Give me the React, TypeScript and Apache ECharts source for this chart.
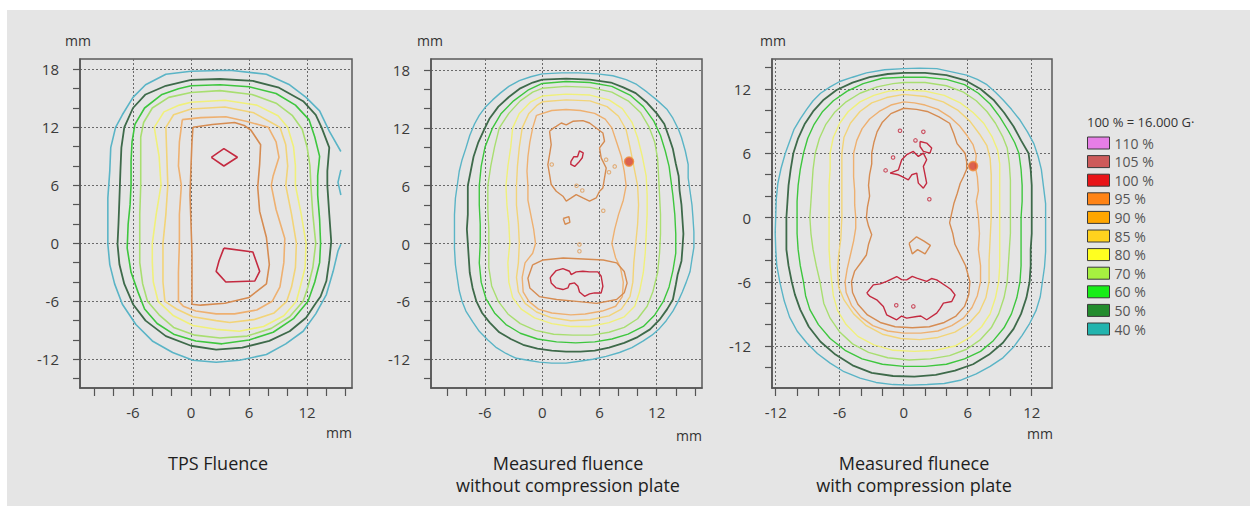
import React, { useEffect, useRef } from 'react';
import * as echarts from 'echarts';

// ---------- axis ticks & labels (mm) ----------
const xTicksA = [-10, -8, -6, -4, -2, 0, 2, 4, 6, 8, 10, 12, 14, 16];
const xLabelsA = [-6, 0, 6, 12];
const yTicksA = [-14, -12, -10, -8, -6, -4, -2, 0, 2, 4, 6, 8, 10, 12, 14, 16, 18];
const yLabelsA = [-12, -6, 0, 6, 12, 18];
const xTicksC = [-12, -10, -8, -6, -4, -2, 0, 2, 4, 6, 8, 10, 12];
const xLabelsC = [-12, -6, 0, 6, 12];
const yTicksC = [-14, -12, -10, -8, -6, -4, -2, 0, 2, 4, 6, 8, 10, 12, 14];
const yLabelsC = [-12, -6, 0, 6, 12];

const panelRangesX = [[-11.48, 16.65], [-11.66, 16.75], [-12.35, 13.9]];
const panelRangesY = [[-14.97, 19.07], [-14.98, 19.14], [-15.92, 14.8]];

// ---------- isodose levels ----------
const levelNames = ['110 %', '105 %', '100 %', '95 %', '90 %', '85 %', '80 %', '70 %', '60 %', '50 %', '40 %'];
const legendColors = ['#e67ee6', '#cd5a5a', '#e81418', '#ff8416', '#ffa600', '#ffd21e', '#ffff20', '#a6f040', '#18ee18', '#238c2e', '#22b4ae'];
const lineColors: Record<string, string> = {
  '110 %': '#e67ee6', '105 %': '#c05050', '100 %': '#c42a40', '95 %': '#d68c52', '90 %': '#eeb070',
  '85 %': '#f2d478', '80 %': '#f0f07a', '70 %': '#a8de70', '60 %': '#3ec63e', '50 %': '#3e6a4a', '40 %': '#5ab4c6',
};
const captions = ['TPS Fluence', 'Measured fluence\nwithout compression plate', 'Measured flunece\nwith compression plate'];

// ---------- Panel 1 : TPS fluence ----------
const p1_40a = [[15.5,9.5],[14.3,11.6],[13.3,13.7],[11.9,15.1],[10.2,16.4],[7.8,17.5],[4.0,17.9],[0,17.8],[-2.6,17.5],[-4.7,16.4],[-6.0,15.1],[-7.1,13.3],[-7.8,12.0],[-8.3,9.9],[-8.4,7.5],[-8.6,4.7],[-8.6,2.0],[-8.6,-0.1],[-8.4,-2.2],[-7.9,-4.2],[-7.1,-6.3],[-5.7,-8.4],[-4.0,-10.1],[-1.9,-11.3],[0.2,-12.1],[2.6,-12.3],[5.0,-12.1],[7.8,-11.5],[9.8,-10.4],[11.6,-9.1],[12.9,-7.3],[14.0,-5.3],[14.7,-2.9],[15.2,-0.8],[15.5,-0.1]];
const p1_40b = [[15.5,7.6],[15.2,6.3],[15.5,5.0]];
const p1_50 = [[0,16.9],[3,17.0],[6.4,16.8],[9.1,16.1],[11.6,14.7],[12.9,13.3],[13.5,12],[14.3,9.9],[14.1,7.5],[14.1,6],[14.3,3],[14.5,0.2],[14.3,-1.8],[14.0,-3.9],[13.4,-5.5],[12.9,-6.2],[11.9,-7.7],[10.2,-9.1],[8.1,-10.1],[5.3,-10.8],[2.6,-11.0],[0,-10.6],[-2.6,-9.6],[-4.7,-8.0],[-6.0,-6.3],[-6.9,-4.2],[-7.4,-2.2],[-7.6,-0.1],[-7.5,2],[-7.4,4.7],[-7.3,7.5],[-7.2,9.9],[-6.9,12.0],[-6.0,14.0],[-4.7,15.4],[-2.6,16.3],[0,16.9]];
const p1_60 = [[0,16.3],[3,16.4],[6,16.2],[8.8,15.5],[10.8,14.3],[12.2,12.8],[12.8,11],[13.3,9],[13.1,7],[13.1,5],[13.3,2.5],[13.4,0],[13.3,-2],[12.8,-4],[12.1,-6],[10.6,-7.8],[8.5,-9.2],[6,-10.0],[3.2,-10.4],[0.5,-10.1],[-1.8,-9.4],[-3.5,-8.3],[-4.8,-6.8],[-5.5,-5],[-6.2,-3],[-6.6,-0.5],[-6.5,2],[-6.3,4],[-6.2,6],[-6.2,8.5],[-6.1,10.5],[-5.8,12.3],[-4.8,14],[-3.0,15.4],[-1.3,16.0],[0,16.3]];
const p1_70 = [[0,15.6],[3,15.8],[6.3,15.4],[8.8,14.5],[10.5,13.2],[11.5,11.8],[12.0,10],[12.3,8],[12.4,6],[12.6,3],[12.9,0],[12.6,-2.5],[12.1,-4.5],[11.6,-6],[10.2,-7.6],[8.3,-8.8],[5.8,-9.6],[3,-9.8],[0.4,-9.5],[-1.8,-8.7],[-3.3,-7.4],[-4.5,-6],[-5.0,-4.2],[-5.3,-2],[-5.3,0],[-5.3,3],[-5.2,6],[-5.2,9],[-5.2,11],[-4.9,12.5],[-4.0,14],[-2.3,15.1],[0,15.6]];
const p1_80 = [[0,14.6],[3.5,14.8],[6.8,14.3],[9.0,13.2],[10.0,12],[10.6,10],[10.8,8],[10.8,6],[11.4,3],[11.9,0],[11.8,-2.5],[11.3,-4.5],[10.9,-6],[9.6,-7.5],[7.5,-8.6],[5,-9.1],[2.6,-8.9],[0.2,-8.5],[-1.8,-7.5],[-3.4,-6],[-3.9,-4],[-4.0,-2],[-4.0,0],[-3.6,3],[-3.1,6],[-3.3,9],[-3.8,12],[-2.8,13.6],[-1.2,14.3],[0,14.6]];
const p1_85 = [[0,13.9],[3.5,14.1],[6.5,13.5],[8.3,12.5],[9.2,12],[9.8,10.2],[10.0,8],[9.8,6],[10.4,3],[10.9,0],[10.8,-2.5],[10.4,-4.5],[9.9,-6],[8.6,-7.2],[6.5,-7.9],[4,-8.2],[2.6,-8.0],[0.2,-7.6],[-1.5,-6.8],[-2.7,-6],[-2.9,-4],[-2.9,-2],[-2.9,0],[-2.6,3],[-2.4,6],[-2.5,9],[-2.6,12],[-1.8,13.3],[0,13.9]];
const p1_90 = [[-0.9,12.8],[1,13.0],[3.6,13.1],[5.8,12.6],[8.0,12],[8.8,10.5],[9.1,8.9],[8.5,7],[8.3,6],[8.8,3.5],[9.7,0.5],[9.6,-2],[9.2,-4.5],[8.4,-6],[6.8,-6.9],[4.5,-7.3],[2.6,-7.3],[0.5,-7.0],[-0.8,-6.5],[-1.3,-6],[-1.3,-3],[-1.2,0],[-1.2,3],[-1.0,6],[-1.3,8],[-1.2,10.5],[-0.9,12.8]];
const p1_95 = [[0.2,12.0],[2.2,12.3],[4.5,12.5],[5.5,12.2],[6.2,11.7],[7.2,10.2],[7.1,8.2],[6.9,5.8],[7.1,3.3],[7.8,0.6],[8.1,-2.2],[7.8,-4.2],[6.0,-5.6],[3.5,-6.2],[1,-6.4],[0.1,-6.3],[0.1,-4],[0.1,-1],[0,2],[-0.1,5],[0,8],[0.1,10.5],[0.2,12.0]];
const p1_100a = [[2.1,8.9],[3.4,9.8],[4.8,8.9],[3.4,8.0],[2.1,8.9]];
const p1_100b = [[3.4,-0.5],[6.4,-0.9],[7.1,-2.9],[6.6,-3.9],[3.6,-4.0],[2.6,-2.9],[2.9,-1.8],[3.4,-0.5]];

// ---------- Panel 2 : measured, without compression plate ----------
const p2_40 = [[0,17.6],[2,17.7],[3.9,17.7],[5.8,17.6],[7.4,17.4],[8.8,17.0],[9.9,16.5],[11.0,15.7],[12,14.9],[13.1,13.9],[13.7,13],[14.3,11.8],[14.6,11],[15.0,9.6],[15.3,8.2],[15.3,6.8],[15.5,5.4],[15.7,4.0],[15.8,2.7],[15.9,1.2],[15.9,-0.4],[15.7,-1.6],[15.5,-2.9],[15.1,-4.0],[14.7,-5.0],[14.2,-6.1],[13.7,-7],[13.0,-8],[12.3,-8.8],[11.5,-9.5],[10.6,-10.1],[9.4,-10.8],[8.1,-11.3],[6.7,-11.7],[5.3,-12],[3.9,-12.2],[2.5,-12.4],[1.0,-12.4],[-0.3,-12.3],[-1.5,-12.1],[-2.7,-11.9],[-3.8,-11.4],[-4.8,-10.8],[-5.7,-10.0],[-6.6,-9.1],[-7.3,-8.1],[-8,-7],[-8.4,-6.0],[-8.7,-4.9],[-8.9,-3.6],[-9.1,-2.2],[-9.2,-0.5],[-9.2,1.3],[-9.2,3.0],[-9.1,4.7],[-8.9,6.1],[-8.7,7.5],[-8.4,8.7],[-8,9.9],[-7.6,11.2],[-7.1,12.4],[-6.6,13.3],[-6.0,14.1],[-5.2,14.9],[-4.4,15.6],[-3.5,16.3],[-2.4,16.9],[-1.2,17.3],[0,17.6]];
const p2_50 = [[0,17.0],[2.5,17.1],[5,17.0],[7.2,16.7],[8.5,16.2],[9.8,15.6],[11.0,14.6],[12.0,13.5],[12.8,12.4],[13.3,11],[13.7,9.8],[14.0,8.3],[14.3,7],[14.4,5.5],[14.6,4],[14.7,2.5],[14.8,1],[14.7,-0.5],[14.6,-1.8],[14.2,-3.2],[14.0,-4.3],[13.7,-5.8],[13.1,-6.8],[12.3,-7.9],[11.3,-8.9],[10.0,-9.7],[8.6,-10.3],[7.0,-10.8],[5.5,-11.1],[4,-11.2],[2.5,-11.2],[1,-11.1],[-0.5,-10.9],[-2,-10.5],[-3.3,-9.9],[-4.5,-9.2],[-5.5,-8.2],[-6.3,-7.2],[-6.9,-6.0],[-7.3,-4.6],[-7.6,-3.0],[-7.7,-1.5],[-7.8,0],[-7.9,1.5],[-7.8,3],[-7.8,4.5],[-7.8,6],[-7.5,7.5],[-7.2,9],[-6.7,10.5],[-6.1,11.8],[-5.5,13],[-4.6,14.2],[-3.5,15.2],[-2.3,16.1],[-1,16.7],[0,17.0]];
const p2_60 = [[0,16.6],[2.5,16.8],[5,16.7],[7.3,16.3],[9.2,15.4],[10.6,14.2],[11.7,12.7],[12.4,11.2],[12.9,9.6],[13.3,8],[13.5,6.5],[13.7,5],[13.9,3],[14.0,1],[14.0,-1],[13.7,-2.8],[13.3,-4.5],[12.7,-6],[11.8,-7.4],[10.6,-8.6],[9.0,-9.4],[7.3,-9.9],[5.5,-10.2],[3.5,-10.3],[1.5,-10.2],[-0.5,-9.9],[-2.3,-9.3],[-3.8,-8.4],[-5.0,-7.2],[-5.9,-5.7],[-6.4,-4],[-6.6,-2],[-6.5,0],[-6.5,2],[-6.6,4],[-6.6,6],[-6.4,8],[-6.0,10],[-5.2,12],[-4.3,13.5],[-3.0,14.8],[-1.5,15.9],[0,16.6]];
const p2_70 = [[0,16.1],[2.5,16.3],[5,16.2],[7.3,15.7],[9,14.8],[10.3,13.6],[11.2,12.1],[11.8,10.5],[12.1,8.8],[12.2,7],[12.3,5],[12.4,3],[12.4,1],[12.3,-1],[12.1,-3],[11.6,-5],[11.0,-6.5],[10.0,-7.8],[8.6,-8.7],[7,-9.2],[5.2,-9.5],[3.2,-9.5],[1.2,-9.4],[-0.7,-9.0],[-2.3,-8.3],[-3.6,-7.3],[-4.6,-6.0],[-5.3,-4.4],[-5.6,-2.5],[-5.6,-0.5],[-5.6,1.5],[-5.7,3.5],[-5.7,6],[-5.4,8],[-5.0,10],[-4.5,12],[-3.5,13.5],[-2.3,14.8],[-1,15.7],[0,16.1]];
const p2_80 = [[0,15.3],[2.5,15.5],[5,15.4],[7,14.9],[8.4,14.0],[9.4,12.6],[10.0,11],[10.5,9],[10.9,7],[11.0,5],[11.0,3],[10.9,1],[10.8,-1],[10.6,-3],[10.2,-5],[9.7,-6.5],[8.6,-7.6],[7,-8.2],[5,-8.6],[3,-8.6],[1,-8.3],[-0.8,-7.7],[-2.2,-6.8],[-3.1,-5.6],[-3.5,-4],[-3.6,-2],[-3.4,0],[-3.5,2],[-3.7,4],[-3.8,6],[-3.6,8],[-3.3,10],[-3.1,12],[-2.4,13.5],[-1.2,14.7],[0,15.3]];
const p2_85 = [[0,14.7],[2.5,14.9],[5,14.8],[6.8,14.2],[8.0,13.2],[8.8,11.8],[9.2,10],[9.6,8],[10.0,6],[10.1,4],[10.0,2],[9.8,0],[9.6,-2],[9.5,-4],[9.2,-5.5],[8.3,-6.8],[7,-7.5],[5,-7.9],[3,-8.0],[1,-7.7],[-0.6,-7.1],[-1.8,-6.2],[-2.5,-5],[-2.7,-3.5],[-2.5,-2],[-2.4,0],[-2.5,2],[-2.7,4],[-2.7,6],[-2.6,8],[-2.4,10],[-2.1,12],[-1.4,13.5],[-0.6,14.3],[0,14.7]];
const p2_90 = [[-0.6,13.3],[1,13.8],[2.5,13.9],[4,13.8],[5.5,13.5],[6.6,12.9],[7.3,12],[7.8,10.5],[8.3,9],[8.6,7.5],[8.8,6],[8.5,4.5],[8.0,3],[7.6,1.5],[7.3,0],[7.7,-1.5],[8.2,-2.5],[8.5,-4],[8.4,-5.5],[7.7,-6.5],[6.3,-7.0],[4.5,-7.3],[3,-7.4],[1,-7.2],[-0.4,-6.8],[-1.4,-6],[-2.0,-5],[-2.1,-3.5],[-1.8,-2],[-1.0,-1],[-0.7,0],[-0.9,1.5],[-1.2,3],[-1.5,4.5],[-1.5,6],[-1.6,7.5],[-1.5,9],[-1.3,10.5],[-1.0,12],[-0.6,13.3]];
const p2_95u = [[0.77,11.65],[1.2,12.0],[1.47,12.16],[2.0,12.5],[2.52,12.3],[3.21,12.68],[4.26,12.75],[4.96,12.5],[5.66,11.99],[6.36,11.47],[6.53,10.61],[6.01,9.92],[6.18,8.88],[6.71,7.84],[6.53,6.81],[6.36,5.77],[6.01,5.42],[5.66,4.73],[4.96,4.39],[4.26,4.73],[3.56,5.08],[3.04,4.73],[2.52,4.4],[2.17,4.91],[1.47,5.42],[0.94,6.12],[0.77,7.15],[0.59,8.19],[0.77,9.23],[0.94,10.26],[0.77,11.65]];
const p2_95l = [[-1.0,-2.2],[0.1,-1.7],[2.2,-1.5],[4.3,-1.6],[6.4,-1.7],[7.8,-2.0],[8.6,-2.9],[8.9,-4.1],[8.6,-5.1],[7.8,-5.8],[5.7,-6.2],[3.6,-6.0],[1.5,-5.8],[-0.3,-5.5],[-1.3,-4.6],[-1.5,-3.6],[-1.0,-2.2]];
const p2_95s = [[2.2,2.6],[2.8,2.8],[2.9,2.2],[2.4,2.0],[2.2,2.6]];
const p2_100l = [[0.94,-3.39],[1.47,-2.8],[2.17,-2.6],[2.86,-2.87],[3.04,-3.22],[3.56,-2.94],[4.26,-2.87],[4.96,-2.94],[5.84,-2.94],[6.18,-3.39],[6.36,-4.43],[6.18,-5.12],[5.49,-5.12],[4.96,-5.22],[4.44,-5.47],[3.91,-5.02],[3.74,-4.43],[3.39,-4.08],[2.86,-4.19],[2.69,-4.6],[2.17,-4.77],[1.47,-4.6],[0.94,-4.08],[0.84,-3.56],[0.94,-3.39]];
const p2_100u = [[3.0,8.5],[3.3,9.0],[3.7,9.0],[3.9,9.6],[4.3,9.4],[4.2,8.9],[3.8,8.4],[3.4,8.0],[3.0,8.2],[3.0,8.5]];
const p2_hot = [[9.1, 8.5]];
const p2_specks = [[1.0, 8.2], [6.7, 8.7], [7.6, 8.0], [7.0, 7.4], [4.2, 5.5], [6.4, 3.4], [3.9, -0.1], [3.9, -0.8], [3.6, 6.0]];

// ---------- Panel 3 : measured, with compression plate ----------
const p3_40 = [[0,13.9],[1.5,13.95],[3.1,13.9],[4.5,13.6],[5.9,13.3],[6.9,12.9],[7.8,12.4],[8.6,11.7],[9.3,11],[10.1,10.1],[10.9,9.1],[11.6,8],[12.2,6.9],[12.6,5.7],[12.9,4.5],[13.1,2.9],[13.3,1.3],[13.3,-0.3],[13.3,-1.8],[13.3,-3.2],[13.2,-4.6],[13.0,-6.0],[12.8,-7.4],[12.4,-8.7],[11.8,-9.9],[11.1,-11],[10.3,-12.1],[9.3,-13.1],[8.1,-13.9],[6.8,-14.6],[5.3,-15.2],[3.8,-15.5],[2.2,-15.6],[0.6,-15.65],[-1,-15.6],[-2.6,-15.4],[-4.1,-15],[-5.6,-14.4],[-6.9,-13.6],[-8.1,-12.7],[-9.1,-11.7],[-10.0,-10.6],[-10.7,-9.3],[-11.2,-7.8],[-11.6,-6.1],[-11.9,-4.5],[-12,-3],[-12.05,-1.4],[-12,0.1],[-11.95,1.7],[-11.8,3.2],[-11.5,4.6],[-11.1,6],[-10.7,7.1],[-10.3,8.2],[-9.7,9.2],[-9.1,10.1],[-8.5,10.9],[-7.8,11.6],[-6.9,12.2],[-6,12.7],[-4.8,13.1],[-3.5,13.5],[-1.8,13.8],[0,13.9]];
const p3_50 = [[0,13.5],[2,13.5],[4,13.3],[5.8,12.8],[7.2,12.0],[8.4,11],[9.4,9.8],[10.3,8.5],[11.0,7.2],[11.7,6],[11.9,4.5],[12.0,3],[12.0,1.5],[12.0,0],[12.0,-1.5],[11.9,-3],[11.9,-4.5],[11.8,-6],[11.5,-7.5],[11.0,-9],[10.3,-10.4],[9.3,-11.7],[8.0,-12.8],[6.5,-13.7],[4.8,-14.3],[3,-14.7],[1,-14.85],[-1,-14.8],[-3,-14.5],[-4.8,-13.8],[-6.4,-12.8],[-7.8,-11.6],[-8.9,-10.2],[-9.7,-8.6],[-10.2,-7.2],[-10.5,-6],[-10.8,-4.5],[-11.0,-3],[-11.0,-1.5],[-11.0,0],[-10.9,1.5],[-10.8,3],[-10.6,4.5],[-10.35,6],[-9.9,7.4],[-9.3,8.7],[-8.5,9.9],[-7.5,11],[-6.3,11.9],[-4.8,12.6],[-3.2,13.1],[-1.5,13.4],[0,13.5]];
const p3_60 = [[0,13.1],[2,13.1],[4,12.9],[5.7,12.4],[7.0,11.6],[8.1,10.6],[9.0,9.4],[9.8,8.1],[10.4,7],[10.8,6],[11.0,4.5],[11.1,3],[11.1,1.5],[11.0,0],[11.0,-1.5],[11.0,-3],[11.0,-4.5],[10.9,-6],[10.6,-7.5],[10.1,-9],[9.4,-10.3],[8.4,-11.5],[7.2,-12.5],[5.7,-13.2],[4,-13.7],[2,-13.9],[0,-13.9],[-2,-13.7],[-3.9,-13.2],[-5.5,-12.4],[-6.9,-11.3],[-8.0,-10],[-8.8,-8.6],[-9.2,-7.3],[-9.4,-6],[-9.7,-4.5],[-9.9,-3],[-10.0,-1.5],[-10.0,0],[-10.0,1.5],[-9.9,3],[-9.7,4.5],[-9.4,6],[-9.0,7.4],[-8.4,8.7],[-7.6,9.9],[-6.6,10.9],[-5.3,11.8],[-3.8,12.5],[-2,13.0],[0,13.1]];
const p3_70 = [[0,12.6],[2,12.6],[4,12.3],[5.6,11.7],[6.8,10.9],[7.8,9.9],[8.6,8.8],[9.3,7.5],[9.7,6.5],[9.9,5],[10.0,3.5],[10.0,2],[10.0,0],[10.0,-1.5],[9.9,-3],[9.8,-4.5],[9.7,-6],[9.4,-7.5],[8.9,-9],[8.2,-10.3],[7.2,-11.4],[5.9,-12.3],[4.3,-12.9],[2.5,-13.2],[0.5,-13.3],[-1.5,-13.1],[-3.3,-12.6],[-4.8,-11.8],[-6.0,-10.7],[-6.9,-9.4],[-7.5,-8],[-7.85,-6],[-8.2,-4.5],[-8.5,-3],[-8.7,-1.5],[-8.8,0],[-8.7,1.5],[-8.6,3],[-8.5,4.5],[-8.3,6],[-7.9,7.4],[-7.3,8.7],[-6.5,9.8],[-5.4,10.8],[-4.1,11.6],[-2.5,12.2],[-1,12.5],[0,12.6]];
const p3_80 = [[0,11.9],[2,11.8],[3.8,11.4],[5.3,10.7],[6.5,9.8],[7.5,8.8],[8.3,7.5],[8.8,6.3],[9.0,5],[9.0,3],[9.0,1],[9.0,-1],[9.0,-3],[9.0,-4.5],[8.9,-6],[8.6,-7.5],[8.1,-9],[7.3,-10.2],[6.2,-11.2],[4.8,-12],[3,-12.4],[1,-12.5],[-1,-12.4],[-2.8,-11.9],[-4.3,-11.1],[-5.4,-10],[-6.2,-8.7],[-6.6,-7.3],[-6.75,-6],[-6.9,-4.5],[-7.0,-3],[-7.0,-1.5],[-7.0,0],[-7.0,1.5],[-7.0,3],[-6.9,4.5],[-6.9,6],[-6.6,7.5],[-6.0,8.8],[-5.2,9.9],[-4.1,10.8],[-2.8,11.4],[-1.4,11.8],[0,11.9]];
const p3_85 = [[0,11.5],[2,11.3],[3.7,10.8],[5.1,10.0],[6.2,9.0],[7.1,7.8],[7.8,6.7],[8.1,5.5],[8.2,4],[8.2,2],[8.2,0],[8.1,-2],[8.0,-4],[8.0,-6],[7.7,-7.5],[7.1,-8.8],[6.1,-9.9],[4.8,-10.7],[3.2,-11.2],[1.5,-11.4],[-0.3,-11.3],[-2,-10.9],[-3.5,-10.1],[-4.7,-9.0],[-5.6,-7.7],[-6.1,-6.5],[-6.2,-5],[-6.1,-3.5],[-5.9,-2],[-5.8,0],[-5.8,2],[-5.8,4],[-5.8,6],[-5.6,7.5],[-5.0,8.8],[-4.1,9.9],[-3.0,10.7],[-1.6,11.2],[0,11.5]];
const p3_90 = [[0,10.8],[1,10.7],[2,10.5],[3.2,10.1],[4.3,9.4],[5.2,8.6],[5.9,7.7],[6.5,6.8],[6.8,5.8],[6.7,4.8],[6.9,3.8],[7.0,2.5],[6.8,1.5],[7.0,0],[7.1,-1.5],[7.0,-3],[7.2,-4.5],[7.2,-6],[6.9,-7.3],[6.4,-8.4],[5.6,-9.4],[4.5,-10.1],[3.2,-10.6],[1.6,-10.8],[0,-10.8],[-1.5,-10.6],[-2.9,-10.1],[-4.0,-9.3],[-4.9,-8.2],[-5.4,-7.0],[-5.5,-6],[-5.3,-4.8],[-5.0,-3.5],[-4.7,-2.2],[-4.5,-1],[-4.5,0],[-4.6,1.2],[-4.6,2.5],[-4.7,3.8],[-4.7,5],[-4.7,6],[-4.4,7.2],[-3.9,8.3],[-3.2,9.2],[-2.3,9.9],[-1.2,10.5],[0,10.8]];
const p3_95 = [[0,10.2],[1.2,10.1],[2.2,9.9],[3.3,9.4],[4.3,8.8],[4.7,7.8],[5.0,6.9],[5.75,6.0],[5.9,5.2],[5.9,4.5],[5.6,3.8],[5.3,3.2],[5.0,2.2],[4.7,1.3],[4.5,0.4],[4.3,-0.5],[4.6,-1.5],[4.8,-2.5],[5.3,-3.5],[5.8,-4.5],[6.2,-6],[6.1,-7.2],[5.7,-8.3],[4.9,-9.2],[3.8,-9.8],[2.4,-10.2],[0.8,-10.3],[-0.8,-10.2],[-2.2,-9.8],[-3.4,-9.1],[-4.3,-8.1],[-4.8,-7.0],[-4.9,-6],[-4.6,-5],[-4.0,-4.2],[-3.5,-3.5],[-3.3,-2.5],[-3.0,-1.6],[-3.3,-0.8],[-3.5,0],[-3.4,1],[-3.2,2],[-3.3,3],[-3.2,4],[-3.0,5],[-3.0,6],[-2.8,7],[-2.5,8],[-2.0,8.9],[-1.2,9.7],[0,10.2]];
const p3_95s = [[0.5,-2.4],[1.2,-1.8],[1.9,-2.2],[2.5,-2.6],[2.0,-3.4],[1.3,-3.0],[0.8,-3.4],[0.5,-2.4]];
const p3_100l = [[-3.47,-7.06],[-2.85,-6.29],[-2.2,-6.2],[-1.6,-5.97],[-0.66,-5.51],[-0.2,-5.8],[0.28,-5.82],[0.8,-5.5],[1.22,-5.66],[2.15,-5.97],[2.6,-5.7],[3.09,-5.82],[4.03,-6.44],[4.4,-6.7],[4.81,-7.22],[4.5,-7.84],[3.72,-8.0],[3.4,-8.5],[3.09,-8.93],[2.15,-9.55],[1.6,-9.2],[1.22,-9.24],[0.28,-9.4],[-0.2,-9.2],[-0.66,-9.55],[-1.6,-9.09],[-1.91,-8.31],[-2.53,-7.69],[-3.16,-7.37],[-3.47,-7.06]];
const p3_100u = [[-1.28,4.14],[-0.5,4.45],[-0.19,5.39],[0.28,5.86],[0.9,6.17],[1.37,5.7],[1.84,6.01],[2.15,5.39],[1.84,4.77],[2.0,3.99],[2.15,3.21],[1.84,2.74],[1.37,3.21],[1.22,4.14],[0.75,3.99],[0.43,3.52],[-0.19,3.83],[-0.5,3.99],[-1.28,4.14]];
const p3_100u2 = [[1.53,7.1],[2.15,6.95],[2.62,6.48],[2.46,6.01],[1.84,6.17],[1.53,6.63],[1.53,7.1]];
const p3_hot = [[6.5, 4.8]];
const p3_specks = [[-0.35, 8.1], [1.84, 8.0], [1.1, 7.2], [2.4, 1.7], [-1.0, 5.6], [-1.7, 4.4], [-0.7, -8.2], [0.9, -8.3]];

// ---------- contour table (panel, level, points) ----------
const contours: [number, string, number[][]][] = [
  [0, '40 %', p1_40a], [0, '40 %', p1_40b], [0, '50 %', p1_50], [0, '60 %', p1_60], [0, '70 %', p1_70],
  [0, '80 %', p1_80], [0, '85 %', p1_85], [0, '90 %', p1_90], [0, '95 %', p1_95], [0, '100 %', p1_100a], [0, '100 %', p1_100b],
  [1, '40 %', p2_40], [1, '50 %', p2_50], [1, '60 %', p2_60], [1, '70 %', p2_70], [1, '80 %', p2_80], [1, '85 %', p2_85],
  [1, '90 %', p2_90], [1, '95 %', p2_95u], [1, '95 %', p2_95l], [1, '95 %', p2_95s], [1, '100 %', p2_100l], [1, '100 %', p2_100u],
  [2, '40 %', p3_40], [2, '50 %', p3_50], [2, '60 %', p3_60], [2, '70 %', p3_70], [2, '80 %', p3_80], [2, '85 %', p3_85],
  [2, '90 %', p3_90], [2, '95 %', p3_95], [2, '95 %', p3_95s], [2, '100 %', p3_100l], [2, '100 %', p3_100u], [2, '100 %', p3_100u2],
];

const FONT = '"Open Sans", "DejaVu Sans", sans-serif';

function buildOption() {
  const grids = [
    { left: 80, top: 59, width: 272, height: 329 },
    { left: 431, top: 59, width: 271, height: 329 },
    { left: 772, top: 59, width: 280, height: 329 },
  ].map((g) => ({ ...g, show: true, borderColor: '#5a5a5a', borderWidth: 1.5, backgroundColor: 'transparent' }));

  const xTicks = [xTicksA, xTicksA, xTicksC];
  const xLabels = [xLabelsA, xLabelsA, xLabelsC];
  const yTicks = [yTicksA, yTicksA, yTicksC];
  const yLabels = [yLabelsA, yLabelsA, yLabelsC];
  const split = { show: true, lineStyle: { color: '#6a6a6a', width: 1, type: [2, 2] } };

  const xAxis: any[] = [];
  const yAxis: any[] = [];
  for (let g = 0; g < 3; g++) {
    xAxis.push({
      type: 'value', gridIndex: g, position: 'bottom', min: panelRangesX[g][0], max: panelRangesX[g][1],
      axisLine: { show: true, onZero: false, lineStyle: { color: '#555', width: 1.5 } },
      axisTick: { show: true, length: 8, customValues: xTicks[g], lineStyle: { color: '#555', width: 1.2 } },
      axisLabel: { customValues: xLabels[g], margin: 16, fontSize: 15, color: '#3a3a3a', fontFamily: FONT },
      splitLine: { show: false },
    });
    xAxis.push({
      type: 'value', gridIndex: g, position: 'top', min: panelRangesX[g][0], max: panelRangesX[g][1],
      axisLine: { show: false, onZero: false }, axisTick: { show: false, customValues: xLabels[g] },
      axisLabel: { show: false, customValues: xLabels[g] }, splitLine: split,
    });
    yAxis.push({
      type: 'value', gridIndex: g, position: 'left', min: panelRangesY[g][0], max: panelRangesY[g][1],
      axisLine: { show: true, onZero: false, lineStyle: { color: '#555', width: 1.5 } },
      axisTick: { show: true, length: 7, customValues: yTicks[g], lineStyle: { color: '#555', width: 1.2 } },
      axisLabel: { customValues: yLabels[g], margin: 21, fontSize: 15, color: '#3a3a3a', fontFamily: FONT },
      splitLine: { show: false },
    });
    yAxis.push({
      type: 'value', gridIndex: g, position: 'right', min: panelRangesY[g][0], max: panelRangesY[g][1],
      axisLine: { show: false, onZero: false }, axisTick: { show: false, customValues: yLabels[g] },
      axisLabel: { show: false, customValues: yLabels[g] }, splitLine: split,
    });
  }

  const series: any[] = contours.map(([g, lvl, pts]) => ({
    type: 'line', name: lvl, xAxisIndex: 2 * g, yAxisIndex: 2 * g, data: pts,
    symbol: 'none', showSymbol: false, silent: true, smooth: false,
    lineStyle: { color: lineColors[lvl], width: lvl === '50 %' ? 1.8 : g === 0 ? 1.6 : 1.4 },
    itemStyle: { color: lineColors[lvl] },
  }));
  series.push({ type: 'line', name: '110 %', xAxisIndex: 0, yAxisIndex: 0, data: [], itemStyle: { color: lineColors['110 %'] } });
  series.push({ type: 'line', name: '105 %', xAxisIndex: 0, yAxisIndex: 0, data: [], itemStyle: { color: lineColors['105 %'] } });
  [[1, p2_hot], [2, p3_hot]].forEach(([g, pts]: any) => {
    series.push({
      type: 'scatter', name: '100 %', xAxisIndex: 2 * g, yAxisIndex: 2 * g, data: pts, symbolSize: 9, silent: true,
      itemStyle: { color: '#d8402a', borderColor: '#f08c3a', borderWidth: 1.5 }, z: 5,
    });
  });
  [[1, p2_specks, '#e0a060'], [2, p3_specks, '#c42a40']].forEach(([g, pts, c]: any) => {
    series.push({
      type: 'scatter', name: g === 1 ? '95 %' : '100 %', xAxisIndex: 2 * g, yAxisIndex: 2 * g, data: pts, symbolSize: 3.5, silent: true,
      itemStyle: { color: 'transparent', borderColor: c, borderWidth: 1.1 },
    });
  });

  const texts: any[] = [];
  const mmY = [[65, 40], [417, 40], [760, 40]];
  mmY.forEach(([x, y]) => texts.push({ type: 'text', x, y, style: { text: 'mm', fill: '#333', font: `14px ${FONT}`, textVerticalAlign: 'middle' } }));
  const mmX = [[352, 432], [702, 435], [1053, 433]];
  mmX.forEach(([x, y]) => texts.push({ type: 'text', x, y, style: { text: 'mm', fill: '#333', font: `14px ${FONT}`, textAlign: 'right', textVerticalAlign: 'middle' } }));
  const capX = [218, 568, 914];
  captions.forEach((c, i) => texts.push({
    type: 'text', x: capX[i], y: 452, style: { text: c, fill: '#1e1e1e', font: `18px ${FONT}`, textAlign: 'center', textVerticalAlign: 'top', lineHeight: 22 },
  }));
  texts.push({ type: 'text', x: 1087, y: 122, style: { text: '100 % = 16.000 G·', fill: '#333', font: `13px ${FONT}`, textVerticalAlign: 'middle' } });

  return {
    animation: false,
    backgroundColor: '#ffffff',
    grid: grids,
    xAxis, yAxis, series,
    legend: {
      orient: 'vertical', left: 1087, top: 136, itemWidth: 22, itemHeight: 12, itemGap: 4.6, icon: 'rect',
      selectedMode: false, padding: 0,
      textStyle: { fontSize: 14, color: '#555', fontFamily: FONT },
      data: levelNames.map((n, i) => ({ name: n, itemStyle: { color: legendColors[i], borderColor: '#3a3a3a', borderWidth: 1 } })),
    },
    graphic: [
      { type: 'rect', shape: { x: 7, y: 10, width: 1243, height: 496 }, style: { fill: '#e5e5e5' }, z: -100, silent: true },
      ...texts,
    ],
  };
}

export default function App() {
  const ref = useRef<HTMLDivElement>(null);
  useEffect(() => {
    if (!ref.current) return;
    const chart = echarts.init(ref.current, null, { renderer: 'svg' });
    chart.setOption(buildOption() as any);
    return () => chart.dispose();
  }, []);
  return (
    <div style={{ position: 'fixed', left: 0, top: 0, width: 1250, height: 506, background: '#fff' }}>
      <div ref={ref} style={{ width: 1250, height: 506 }} />
    </div>
  );
}
